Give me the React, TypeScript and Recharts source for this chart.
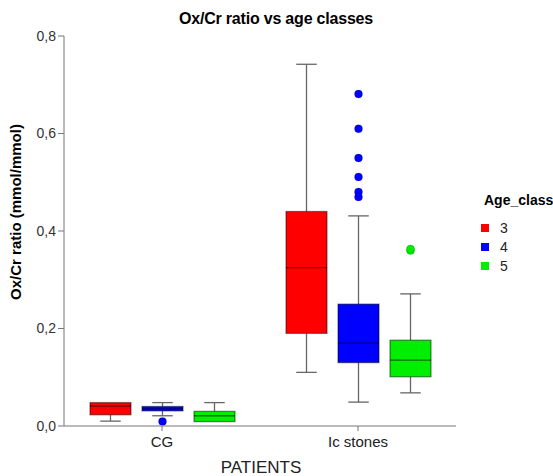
import React from 'react';
import { ComposedChart, Bar, XAxis, YAxis } from 'recharts';

// box statistics, indexed [category][age class]
const categories = ['CG', 'Ic stones'];
const ageClasses = ['3', '4', '5'];
const boxColors = ['#ff0000', '#0000ff', '#00ee00'];

const whiskerLow = [[0.010, 0.021, 0.009], [0.110, 0.049, 0.068]];
const quartile1 = [[0.023, 0.031, 0.009], [0.190, 0.130, 0.101]];
const medians = [[0.041, 0.035, 0.021], [0.325, 0.170, 0.135]];
const quartile3 = [[0.048, 0.040, 0.030], [0.440, 0.250, 0.176]];
const whiskerHigh = [[0.048, 0.048, 0.048], [0.742, 0.431, 0.271]];
const outliers = [
  [[], [0.009], []],
  [[], [0.681, 0.610, 0.550, 0.511, 0.480, 0.470], [0.360, 0.363]],
];

const yTicks = [0, 0.2, 0.4, 0.6, 0.8];

const data = categories.map((c, i) => {
  const row: any = { patients: c };
  ageClasses.forEach((a, j) => {
    row['box' + a] = [quartile1[i][j], quartile3[i][j]];
  });
  return row;
});

const FONT = 'Arial, "Liberation Sans", Helvetica, sans-serif';

const makeBox = (j: number) => (props: any) => {
  const { x, y, width, height, payload } = props;
  const i = categories.indexOf(payload.patients);
  const lo = quartile1[i][j];
  const hi = quartile3[i][j];
  const top = Math.min(y, y + height);
  const h = Math.abs(height);
  const k = h / (hi - lo);
  const py = (v: number) => top + (hi - v) * k;
  const cx = x + width / 2;
  const cap = width / 4;
  const color = boxColors[j];
  const whisk = '#666';
  return (
    <g>
      {whiskerHigh[i][j] > hi && (
        <g>
          <line x1={cx} x2={cx} y1={py(whiskerHigh[i][j])} y2={top} stroke={whisk} strokeWidth={1.3} />
          <line x1={cx - cap} x2={cx + cap} y1={py(whiskerHigh[i][j])} y2={py(whiskerHigh[i][j])} stroke={whisk} strokeWidth={1.3} />
        </g>
      )}
      {whiskerLow[i][j] < lo && (
        <g>
          <line x1={cx} x2={cx} y1={top + h} y2={py(whiskerLow[i][j])} stroke={whisk} strokeWidth={1.3} />
          <line x1={cx - cap} x2={cx + cap} y1={py(whiskerLow[i][j])} y2={py(whiskerLow[i][j])} stroke={whisk} strokeWidth={1.3} />
        </g>
      )}
      <rect x={x} y={top} width={width} height={h} fill={color} stroke="#000" strokeOpacity={0.45} strokeWidth={1.3} />
      <line x1={x} x2={x + width} y1={py(medians[i][j])} y2={py(medians[i][j])} stroke="#000" strokeOpacity={0.55} strokeWidth={1.3} />
      {outliers[i][j].map((v, n) => (
        <circle key={n} cx={cx} cy={py(v)} r={4} fill={color} stroke="#000" strokeOpacity={0.15} strokeWidth={1} />
      ))}
    </g>
  );
};

export default function App() {
  return (
    <div style={{ position: 'absolute', left: 0, top: 0, width: 553, height: 476, background: '#fff', fontFamily: FONT }}>
      <ComposedChart
        width={553}
        height={476}
        data={data}
        margin={{ top: 36, right: 97, left: 24, bottom: 20 }}
        barSize={41}
        barGap={11}
      >
        <XAxis
          dataKey="patients"
          type="category"
          height={30}
          stroke="#777"
          tickSize={5}
          tickMargin={5}
          tick={{ fill: '#222', fontSize: 15, fontFamily: FONT }}
        />
        <YAxis
          domain={[0, 0.8]}
          ticks={yTicks}
          width={40}
          stroke="#777"
          tickSize={6}
          tickMargin={2}
          tick={{ fill: '#333', fontSize: 14, fontFamily: FONT }}
          tickFormatter={(v: number) => v.toFixed(1).replace('.', ',')}
        />
        {ageClasses.map((a, j) => (
          <Bar key={a} dataKey={'box' + a} fill={boxColors[j]} shape={makeBox(j)} isAnimationActive={false} />
        ))}
      </ComposedChart>

      <div style={{ position: 'absolute', left: 276, top: 19, width: 0, height: 0 }}>
        <div style={{ position: 'absolute', transform: 'translate(-50%, -50%)', whiteSpace: 'nowrap', fontWeight: 'bold', fontSize: 16, color: '#000', letterSpacing: -0.2 }}>
          Ox/Cr ratio vs age classes
        </div>
      </div>
      <div style={{ position: 'absolute', left: 15, top: 212, width: 0, height: 0 }}>
        <div style={{ position: 'absolute', transform: 'translate(-50%, -50%) rotate(-90deg)', whiteSpace: 'nowrap', fontWeight: 'bold', fontSize: 15, color: '#000' }}>
          Ox/Cr ratio (mmol/mmol)
        </div>
      </div>
      <div style={{ position: 'absolute', left: 261, top: 468, width: 0, height: 0 }}>
        <div style={{ position: 'absolute', transform: 'translate(-50%, -50%)', whiteSpace: 'nowrap', fontSize: 17, color: '#222' }}>
          PATIENTS
        </div>
      </div>
      <div style={{ position: 'absolute', left: 484, top: 192, fontWeight: 'bold', fontSize: 14, color: '#000' }}>Age_class</div>
      {ageClasses.map((a, j) => (
        <div key={a} style={{ position: 'absolute', left: 481, top: 220 + j * 19, display: 'flex', alignItems: 'center', fontSize: 14, color: '#222' }}>
          <span style={{ display: 'inline-block', width: 8, height: 8, background: boxColors[j], marginRight: 11 }} />
          <span>{a}</span>
        </div>
      ))}
    </div>
  );
}
